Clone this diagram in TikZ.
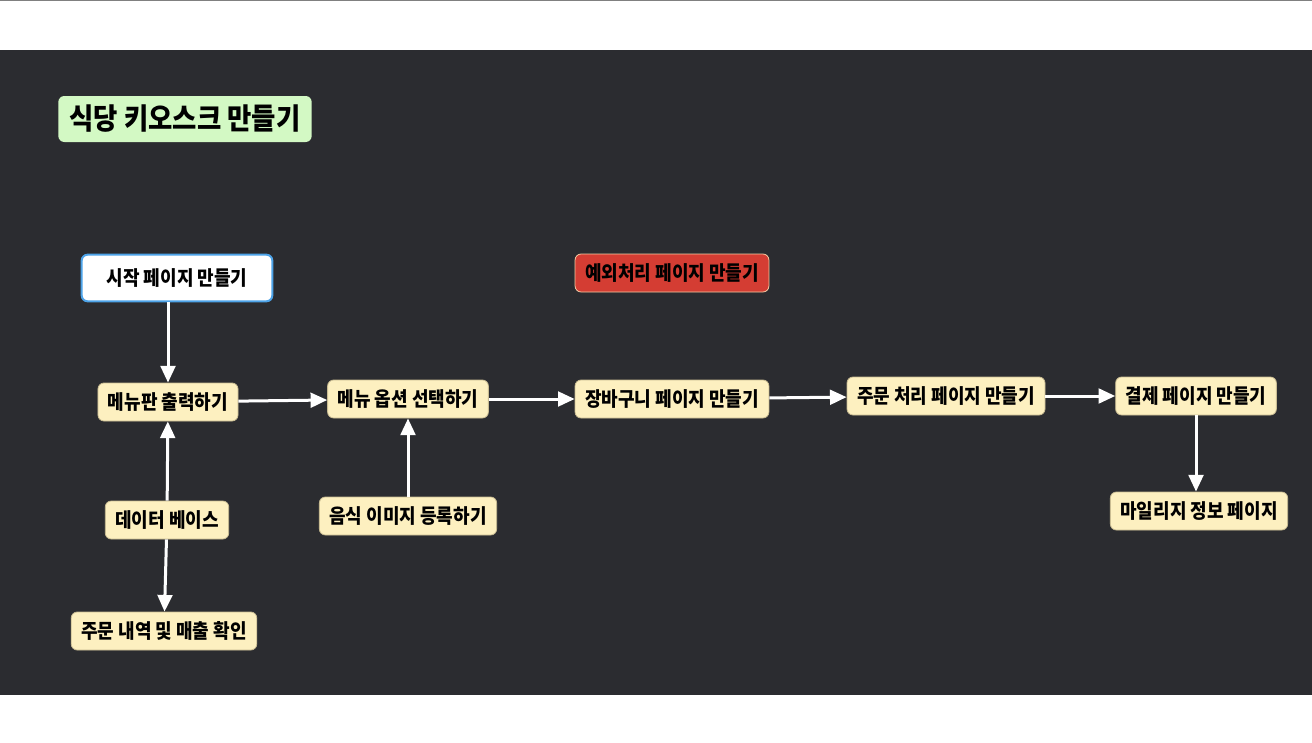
\documentclass[tikz,border=0pt]{standalone}
\usepackage{fontspec}
\newfontfamily\kr[FakeStretch=0.9]{Noto Sans CJK KR}
\usetikzlibrary{arrows.meta}

\definecolor{bgdark}{HTML}{2B2C30}
\definecolor{notefill}{HTML}{FDF0C0}
\definecolor{noteline}{HTML}{C9BC92}
\definecolor{titlefill}{HTML}{D3F9C4}
\definecolor{errfill}{HTML}{D43D33}
\definecolor{startline}{HTML}{4DA3E8}

\begin{document}
\begin{tikzpicture}[x=0.75pt, y=-0.75pt,
  every node/.style={align=center, font=\kr\bfseries\fontsize{15}{18}\selectfont, text=black},
  note/.style={fill=notefill, draw=noteline, line width=0.6pt, rounded corners=4.5pt,
    inner xsep=7.5pt, minimum height=28.5pt},
  link/.style={draw=white, line width=2.25pt, -{Triangle[width=11pt, length=12.5pt]}}]
  % Canvas
  \useasboundingbox (0,0) rectangle (1312,742);
  \fill[white] (0,0) rectangle (1312,742);
  \fill[gray] (0,0) rectangle (1312,1.5);
  \fill[bgdark] (0,50) rectangle (1312,695);

  % Title
  \node[fill=titlefill, rounded corners=4.5pt, minimum width=190pt, minimum height=34.5pt,
    font=\kr\bfseries\fontsize{22}{26}\selectfont] (title) at (185,119) {식당 키오스크 만들기};

  % Nodes
  \node[fill=white, draw=startline, line width=1.5pt, rounded corners=4.5pt,
    minimum width=143pt, minimum height=35pt] (start) at (177,278) {시작 페이지 만들기};
  \node[note] (board) at (168,402) {메뉴판 출력하기};
  \node[note] (option) at (408,399) {메뉴 옵션 선택하기};
  \node[note] (cart) at (672,399) {장바구니 페이지 만들기};
  \node[note] (order) at (946,396) {주문 처리 페이지 만들기};
  \node[note] (pay) at (1196,396) {결제 페이지 만들기};
  \node[note] (mileage) at (1199,511) {마일리지 정보 페이지};
  \node[note, fill=errfill, draw=notefill!80!errfill] (error) at (672,273) {예외처리 페이지 만들기};
  \node[note] (db) at (167,520) {데이터 베이스};
  \node[note] (image) at (408,516) {음식 이미지 등록하기};
  \node[note] (sales) at (164,631) {주문 내역 및 매출 확인};

  % Flow
  \draw[link] (board |- start.south) -- (board);
  \draw[link] (board) -- (option);
  \draw[link] (option) -- (cart);
  \draw[link] (cart) -- (order);
  \draw[link] (order) -- (pay);
  \draw[link] (pay) -- (pay |- mileage.north);
  \draw[link] (db) -- (board);
  \draw[link] (db) -- (sales);
  \draw[link] (image) -- (option);
\end{tikzpicture}
\end{document}
